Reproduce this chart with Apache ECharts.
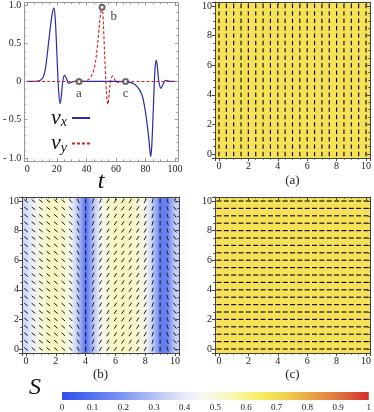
<!DOCTYPE html>
<html><head><meta charset="utf-8">
<script src="https://cdn.jsdelivr.net/npm/echarts@6/dist/echarts.min.js"></script>
<style>html,body{margin:0;padding:0;background:#fff}#c{width:374px;height:412px}</style>
</head><body><div id="c"></div>
<script>
// ---- data ----
const tX = [0,4,6,8,10,11,12,13,14,15,16,17,18,18.8,19.6,20.4,21.2,22.2,23,24,25.2,26.5,28,30,32,40,50,60,66,68,70,72,74,76,78,80,81.5,82.5,83.5,84.2,85,85.8,86.5,87.3,88.1,89,90.5,92,93.5,95,97,100];
const vX = [0,0,0.003,0.01,0.035,0.07,0.14,0.27,0.44,0.61,0.77,0.9,0.96,0.86,0.56,0.2,-0.12,-0.29,-0.2,0.0,0.08,0.04,-0.025,-0.008,0,0,0,0,-0.003,-0.008,-0.015,-0.03,-0.06,-0.11,-0.2,-0.4,-0.62,-0.8,-0.98,-0.86,-0.5,-0.1,0.18,0.28,0.18,0,-0.09,-0.03,0.015,0.008,0,0];
const tY = [0,34,38,40,42,43.5,45,46,47,48,49,50,50.6,51.2,52,53,53.8,54.6,55.4,56.5,57.8,59,60.5,62,64,70,80,90,100];
const vY = [0,0,0.003,0.012,0.035,0.075,0.15,0.24,0.38,0.57,0.78,0.93,0.97,0.88,0.52,0.06,-0.2,-0.3,-0.16,0.03,0.07,0.03,-0.015,-0.006,0,0,0,0,0];
const markT = [35, 50.6, 66.5];
const markV = [0, 0.97, 0];
const markNames = ['a', 'b', 'c'];

const lattice = [0,0.5,1,1.5,2,2.5,3,3.5,4,4.5,5,5.5,6,6.5,7,7.5,8,8.5,9,9.5,10];
const sA = [0.68,0.68,0.68,0.68,0.68,0.68,0.68,0.68,0.68,0.68,0.68,0.68,0.68,0.68,0.68,0.68,0.68,0.68,0.68,0.68,0.68];
const sC = [0.68,0.68,0.68,0.68,0.68,0.68,0.68,0.68,0.68,0.68,0.68,0.68,0.68,0.68,0.68,0.68,0.68,0.68,0.68,0.68,0.68];
const sB = [0.36,0.43,0.5,0.53,0.54,0.52,0.45,0.3,0.1,0.3,0.45,0.51,0.53,0.54,0.53,0.51,0.46,0.33,0.13,0.15,0.34];
const thetaA = 90;
const thetaC = 0;
const thetaB = [-38,-38,-38,-38,-40,-42,-48,-62,90,68,60,57,56,56,57,58,62,72,90,-70,-52];

const cbTicks = [0,0.1,0.2,0.3,0.4,0.5,0.6,0.7,0.8,0.9,1];
const cmapPos = [0,0.1,0.2,0.3,0.4,0.45,0.5,0.55,0.6,0.65,0.7,0.75,0.8,0.85,0.9,0.95,1];
const cmapCol = ['#2f4ff0','#5470f0','#8096f2','#b4c2f5','#e6eaf9','#f6f6f4','#f8f8dc','#f8f6b8','#f8f28a','#f8ec60','#f4dc52','#f0c64c','#eaaa48','#e69044','#e07440','#da5236','#d42a2c'];

// ---- helpers ----
const SERIF = 'Liberation Serif';
function hex(h){ return [parseInt(h.substr(1,2),16),parseInt(h.substr(3,2),16),parseInt(h.substr(5,2),16)]; }
function cmap(s){
  s = Math.max(0, Math.min(1, s));
  let i = 0;
  while (i < cmapPos.length - 2 && s > cmapPos[i+1]) i++;
  const f = (s - cmapPos[i]) / (cmapPos[i+1] - cmapPos[i]);
  const a = hex(cmapCol[i]), b = hex(cmapCol[i+1]);
  const c = a.map((v,k)=>Math.round(v + (b[k]-v)*f));
  return 'rgb(' + c.join(',') + ')';
}
function fieldData(S){
  const out = [];
  for (let i = 0; i < lattice.length - 1; i++) {
    out.push([lattice[i], lattice[i+1], S[i], S[i+1], i === 0 ? 1 : 0, i === lattice.length - 2 ? 1 : 0]);
  }
  return out;
}
function dashData(thetaFn){
  const out = [];
  for (let i = 0; i < lattice.length; i++)
    for (let j = 0; j < lattice.length; j++)
      out.push([lattice[i], lattice[j], thetaFn(i)]);
  return out;
}
function fieldRender(params, api){
  const cs = params.coordSys;
  const x0 = api.coord([api.value(0), 0])[0];
  const x1 = api.coord([api.value(1), 0])[0];
  const c0 = cmap(api.value(2)), c1 = cmap(api.value(3));
  const children = [{type:'rect', shape:{x:x0, y:cs.y, width:x1-x0+0.6, height:cs.height},
    style:{fill:{type:'linear',x:0,y:0,x2:1,y2:0,colorStops:[{offset:0,color:c0},{offset:1,color:c1}]}}}];
  if (api.value(4)) children.push({type:'rect', shape:{x:cs.x, y:cs.y, width:x0-cs.x+0.6, height:cs.height}, style:{fill:c0}});
  if (api.value(5)) children.push({type:'rect', shape:{x:x1, y:cs.y, width:cs.x+cs.width-x1, height:cs.height}, style:{fill:c1}});
  return {type:'group', children};
}
function dashRender(len, w, col){
  return function(params, api){
    const c = api.coord([api.value(0), api.value(1)]);
    const th = api.value(2) * Math.PI / 180;
    const dx = Math.cos(th) * len / 2, dy = Math.sin(th) * len / 2;
    return {type:'line', shape:{x1:c[0]-dx, y1:c[1]+dy, x2:c[0]+dx, y2:c[1]-dy}, style:{stroke:col, lineWidth:w, lineCap:'butt'}};
  };
}

const lblStyle = {fontFamily:SERIF, fontSize:10, color:'#222'};
function evenInt(v){ const r = Math.round(v); return (Math.abs(v-r) < 1e-6 && r % 2 === 0) ? String(r) : ''; }
function evenTwenty(v){ const r = Math.round(v); return (Math.abs(v-r) < 1e-6 && r % 20 === 0 && r >= 0) ? String(r) : ''; }
function lineY(v){
  const m = {'1':'1.0','0.5':'0.5','0':'0','-0.5':'- 0.5','-1':'- 1.0'};
  const k = String(Math.round(v*10)/10);
  return (Math.abs(v*2 - Math.round(v*2)) < 1e-6 && m[k] !== undefined) ? m[k] : '';
}
function axis(opt){
  const color = opt.color || '#444';
  return Object.assign({
    type:'value', z:10, splitLine:{show:false},
    axisLine:{show:true, onZero:false, lineStyle:{color, width:1}},
    axisTick:{show:true, inside:opt.inside !== false, length:opt.tl || 3, lineStyle:{color}},
    minorTick:{show:true, splitNumber:opt.minor || 4, length:1.6, lineStyle:{color}},
    axisLabel: opt.labels ? Object.assign({show:true, margin:3, showMinLabel:false, showMaxLabel:false, formatter:opt.labels}, lblStyle) : {show:false}
  }, opt.extra);
}

const FMIN = -0.27, FMAX = 10.27;
const grids = [
  {left:21, top:2, width:157, height:159},
  {left:215, top:2, width:157, height:156},
  {left:22, top:197, width:157, height:156},
  {left:215, top:197, width:157, height:156},
  {left:62, top:392, width:311, height:9}
];
const nameStyle = {fontFamily:SERIF, fontSize:13, color:'#222'};
const xAxes = [
  axis({color:'#999', labels:evenTwenty, minor:4, extra:{gridIndex:0, min:-2, max:102, splitNumber:5, position:'bottom',
        name:'t', nameLocation:'middle', nameGap:9, nameMoveOverlap:false,
        nameTextStyle:{fontFamily:SERIF, fontStyle:'italic', fontSize:24, color:'#111'}}}),
  axis({color:'#999', minor:4, extra:{gridIndex:0, min:-2, max:102, splitNumber:5, position:'top'}}),
];
const yAxes = [
  axis({color:'#999', labels:lineY, minor:5, extra:{gridIndex:0, min:-1.04, max:1.03, splitNumber:4, position:'left'}}),
  axis({color:'#999', minor:5, extra:{gridIndex:0, min:-1.04, max:1.03, splitNumber:4, position:'right'}}),
];
const panelNames = ['(a)', '(b)', '(c)'];
for (let p = 0; p < 3; p++) {
  const gi = p + 1;
  xAxes.push(axis({labels:evenInt, inside:false, extra:{gridIndex:gi, min:FMIN, max:FMAX, splitNumber:5, position:'bottom',
    name:panelNames[p], nameLocation:'middle', nameGap:p === 0 ? 16 : 15, nameTextStyle:nameStyle}}));
  xAxes.push(axis({extra:{gridIndex:gi, min:FMIN, max:FMAX, splitNumber:5, position:'top'}}));
  yAxes.push(axis({labels:evenInt, inside:false, extra:{gridIndex:gi, min:FMIN, max:FMAX, splitNumber:5, position:'left'}}));
  yAxes.push(axis({extra:{gridIndex:gi, min:FMIN, max:FMAX, splitNumber:5, position:'right'}}));
}
xAxes.push({type:'value', gridIndex:4, min:0, max:1, splitNumber:10, z:10,
  axisLine:{show:false}, axisTick:{show:false}, splitLine:{show:false},
  axisLabel:{margin:3, fontSize:9, fontFamily:SERIF, color:'#222', formatter:v => String(+v.toFixed(1))}});
yAxes.push({type:'value', gridIndex:4, min:0, max:1, show:false});

const series = [
  {type:'line', name:'vx', xAxisIndex:0, yAxisIndex:0, data:tX.map((t,i)=>[t, vX[i]]), smooth:0.35, symbol:'none',
   lineStyle:{color:'#2b2ba6', width:1.2}, itemStyle:{color:'#2b2ba6'}, z:3},
  {type:'line', name:'vy', xAxisIndex:0, yAxisIndex:0, data:tY.map((t,i)=>[t, vY[i]]), smooth:0.35, symbol:'none',
   lineStyle:{color:'#d02020', width:1.1, type:[3,2]}, itemStyle:{color:'#d02020'}, z:4},
  {type:'scatter', xAxisIndex:0, yAxisIndex:0, symbol:'emptyCircle', symbolSize:5, z:5,
   itemStyle:{color:'#444', borderColor:'#444', borderWidth:1},
   data:markT.map((t,i)=>({value:[t, markV[i]], name:markNames[i],
     label: i === 1 ? {position:'right', distance:5, offset:[0,9]} : {position:'bottom', distance:2}})),
   label:{show:true, formatter:p => p.name, fontFamily:SERIF, fontSize:13, color:'#111'}},
];
const fields = [sA, sB, sC];
const thetas = [() => thetaA, i => thetaB[i], () => thetaC];
const dashLen = [4.4, 4.6, 5.0];
const dashW = [1.2, 1.0, 1.2];
const dashCol = ['#151515', '#1a1a1a', '#151515'];
for (let p = 0; p < 3; p++) {
  const ax = 2 + 2*p;
  series.push({type:'custom', xAxisIndex:ax, yAxisIndex:ax, renderItem:fieldRender, data:fieldData(fields[p]), clip:true, silent:true, z:1});
  series.push({type:'custom', xAxisIndex:ax, yAxisIndex:ax, renderItem:dashRender(dashLen[p], dashW[p], dashCol[p]), data:dashData(thetas[p]), clip:true, silent:true, z:2});
}
series.push({type:'custom', xAxisIndex:8, yAxisIndex:8, silent:true, data:[[cbTicks[0], cbTicks[cbTicks.length-1]]],
  renderItem:function(params, api){
    const p0 = api.coord([api.value(0), 0]), p1 = api.coord([api.value(1), 1]);
    return {type:'rect', shape:{x:p0[0], y:p1[1], width:p1[0]-p0[0], height:p0[1]-p1[1]},
      style:{fill:{type:'linear', x:0, y:0, x2:1, y2:0, colorStops:cmapPos.map((o,i)=>({offset:o, color:cmapCol[i]}))}}};
  }});

const chart = echarts.init(document.getElementById('c'), null, {renderer:'canvas'});
chart.setOption({
  animation:false,
  backgroundColor:'#fff',
  grid:grids,
  xAxis:xAxes,
  yAxis:yAxes,
  legend:{left:46, top:102, orient:'vertical', align:'right', itemWidth:18, itemHeight:10, itemGap:3,
    data:['vx','vy'], selectedMode:false, itemStyle:{opacity:0},
    formatter:n => n === 'vx' ? '{v|v}{s|x}' : '{v|v}{s|y}',
    textStyle:{rich:{
      v:{fontFamily:SERIF, fontStyle:'italic', fontSize:22, color:'#111'},
      s:{fontFamily:SERIF, fontStyle:'italic', fontSize:14, color:'#111', padding:[9,0,0,0]}
    }}},
  graphic:[{type:'text', left:29, top:376, style:{text:'S', fontFamily:SERIF, fontStyle:'italic', fontSize:24, fill:'#111'}}],
  series
});
</script></body></html>
